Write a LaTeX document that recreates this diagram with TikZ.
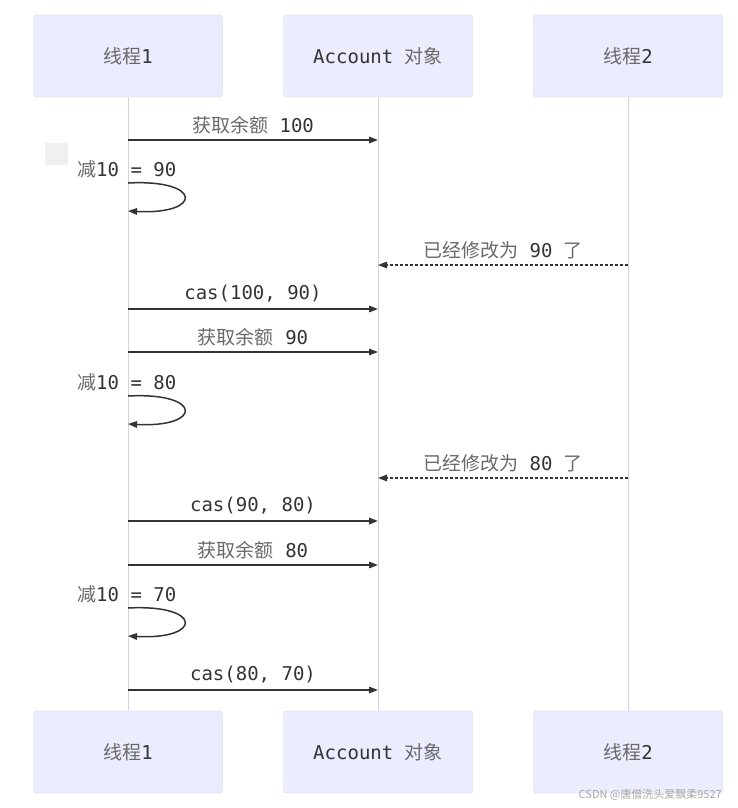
\documentclass[tikz,border=0pt]{standalone}
\usepackage{fontspec}
\setmonofont{DejaVu Sans Mono}
\newfontfamily\cjk{Noto Sans CJK SC}
\usetikzlibrary{arrows.meta,positioning}

\definecolor{actorfill}{RGB}{236,236,255}
\definecolor{actorline}{RGB}{210,210,240}
\definecolor{lifegray}{RGB}{212,212,212}
\definecolor{msgcol}{RGB}{51,51,51}
\definecolor{zhcol}{RGB}{105,105,105}
\newcommand\zh[1]{{\color{zhcol}\cjk #1}}

\begin{document}
\begin{tikzpicture}[
  x=1pt, y=-1pt,
  font=\ttfamily\fontsize{19}{22}\selectfont,
  >={Triangle[length=9pt,width=6.5pt]},
  actor/.style={draw=actorline, fill=actorfill, rounded corners=3pt, minimum width=189pt, minimum height=82pt, inner sep=0pt, text=msgcol},
  lifeline/.style={draw=lifegray, line width=1pt},
  msg/.style={->, draw=msgcol, line width=1.5pt},
  reply/.style={msg, dash pattern=on 3pt off 2pt},
  lbl/.style={text=msgcol, inner sep=0pt, yshift=15pt}]

\useasboundingbox (0,0) rectangle (737,808);

% actors and lifelines
\foreach \n/\x/\t in {t1/128/{\zh{线程}1}, acc/378/{Account \zh{对象}}, t2/628/{\zh{线程}2}} {
  \node[actor] (\n-top) at (\x,56) {\t};
  \node[actor] (\n-bot) at (\x,752) {\t};
  \draw[lifeline] (\n-top) -- (\n-bot);
}

\fill[gray!12] (45,143) rectangle (68,165);

% first round
\draw[msg] (t1-top |- 0,140) -- (acc-top |- 0,140) node[lbl, midway] {\zh{获取余额} 100};
\node[text=msgcol, anchor=west, inner sep=0pt] (s1) at (77,169) {\zh{减}10 = 90};
\draw[msg] (t1-top |- 0,183) .. controls +(75,-4) and +(75,4) .. (t1-top |- 0,211);
\draw[reply] (t2-top |- 0,265) -- (acc-top |- 0,265) node[lbl, midway] {\zh{已经修改为} 90 \zh{了}};
\draw[msg] (t1-top |- 0,309) -- (acc-top |- 0,309) node[lbl, midway] {cas(100, 90)};

% second round
\draw[msg] (t1-top |- 0,352) -- (acc-top |- 0,352) node[lbl, midway] {\zh{获取余额} 90};
\node[text=msgcol, anchor=west, inner sep=0pt] (s2) at (77,382) {\zh{减}10 = 80};
\draw[msg] (t1-top |- 0,396) .. controls +(75,-4) and +(75,4) .. (t1-top |- 0,424);
\draw[reply] (t2-top |- 0,478) -- (acc-top |- 0,478) node[lbl, midway] {\zh{已经修改为} 80 \zh{了}};
\draw[msg] (t1-top |- 0,521) -- (acc-top |- 0,521) node[lbl, midway] {cas(90, 80)};

% third round
\draw[msg] (t1-top |- 0,565) -- (acc-top |- 0,565) node[lbl, midway] {\zh{获取余额} 80};
\node[text=msgcol, anchor=west, inner sep=0pt] (s3) at (77,594) {\zh{减}10 = 70};
\draw[msg] (t1-top |- 0,608) .. controls +(75,-4) and +(75,4) .. (t1-top |- 0,636);
\draw[msg] (t1-top |- 0,690) -- (acc-top |- 0,690) node[lbl, midway] {cas(80, 70)};

\node[anchor=south east, inner sep=0pt, text=gray!70, font=\cjk\fontsize{11}{13}\selectfont] (mark) at (722,801) {CSDN @唐僧洗头爱飘柔9527};

\end{tikzpicture}
\end{document}
